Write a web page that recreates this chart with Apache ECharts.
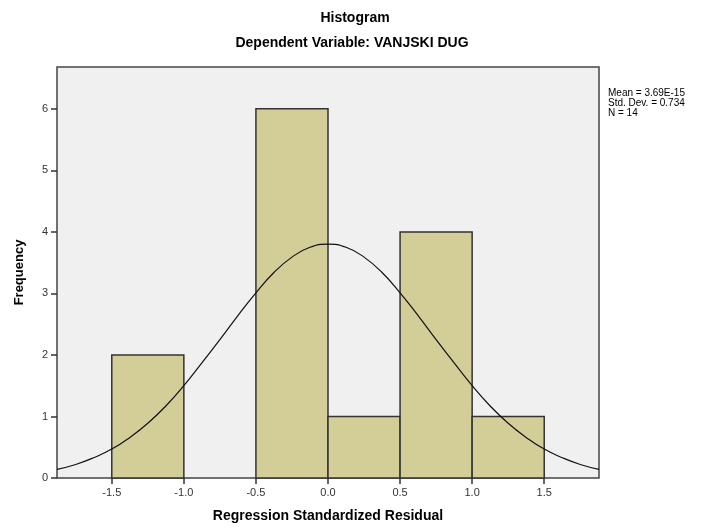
<!DOCTYPE html>
<html>
<head>
<meta charset="utf-8">
<script src="https://cdn.jsdelivr.net/npm/echarts@6/dist/echarts.min.js"></script>
<style>
  html, body { margin: 0; padding: 0; background: #fff; }
  #chart { width: 716px; height: 528px; }
</style>
</head>
<body>
<div id="chart"></div>
<script>
'use strict'

// histogram bins (lower edge, upper edge) and counts
const binStart = [-1.5, -1.0, -0.5, 0.0, 0.5, 1.0]
const binEnd = [-1.0, -0.5, 0.0, 0.5, 1.0, 1.5]
const counts = [2, 0, 6, 1, 4, 1]

// normal curve
const curveX = [-1.88, -1.75, -1.625, -1.5, -1.375, -1.25, -1.125, -1.0, -0.875, -0.75, -0.625, -0.5, -0.375, -0.25, -0.125, 0,
  0.125, 0.25, 0.375, 0.5, 0.625, 0.75, 0.875, 1.0, 1.125, 1.25, 1.375, 1.5, 1.625, 1.75, 1.88]
const curveY = [0.14, 0.22, 0.33, 0.47, 0.66, 0.89, 1.17, 1.50, 1.87, 2.25, 2.64, 3.01, 3.34, 3.59, 3.75, 3.80,
  3.75, 3.59, 3.34, 3.01, 2.64, 2.25, 1.87, 1.50, 1.17, 0.89, 0.66, 0.47, 0.33, 0.22, 0.14]

const statLines = ['Mean = 3.69E-15', 'Std. Dev. = 0.734', 'N = 14']

// axis extents
const X_MIN = -1.88
const X_MAX = 1.88
const Y_MAX = 6.68
const TICK_X_MIN = -1.5
const TICK_X_MAX = 1.5
const TICK_Y_MAX = 6

const FONT = '"Liberation Sans", Arial, sans-serif'
const W = 716
const H = 528
const G = { left: 57, right: 117, top: 67, bottom: 50 }
const plotW = W - G.left - G.right
const plotH = H - G.top - G.bottom
const pxX = plotW / (X_MAX - X_MIN)
const pxY = plotH / Y_MAX

// extra grids only carry the ticks, so they start at round values
const xTickGrid = {
  left: G.left + (TICK_X_MIN - X_MIN) * pxX,
  right: G.right + (X_MAX - TICK_X_MAX) * pxX,
  top: G.top,
  bottom: G.bottom
}
const yTickGrid = {
  left: G.left,
  right: G.right,
  top: G.top + (Y_MAX - TICK_Y_MAX) * pxY,
  bottom: G.bottom
}

const chart = echarts.init(document.getElementById('chart'))
const barData = counts.map((c, i) => [binStart[i], binEnd[i], c])
const tickStyle = { color: '#333', width: 1.5 }
const labelStyle = { fontSize: 11, color: '#333', fontFamily: FONT }
const hiddenAxis = (gridIndex) => ({
  type: 'value',
  gridIndex,
  show: false,
  axisLine: { show: false, onZero: false }
})

const option = {
  animation: false,
  textStyle: { fontFamily: FONT },
  title: [
    {
      text: 'Histogram',
      left: 350,
      top: 6,
      textAlign: 'center',
      textStyle: { fontFamily: FONT, fontSize: 14, fontWeight: 'bold', color: '#000' }
    },
    {
      text: 'Dependent Variable: VANJSKI DUG',
      left: 347,
      top: 31,
      textAlign: 'center',
      textStyle: { fontFamily: FONT, fontSize: 14, fontWeight: 'bold', color: '#000' }
    }
  ],
  graphic: [
    {
      type: 'text',
      left: 608,
      top: 88,
      style: {
        text: statLines.join('\n'),
        font: '10px ' + FONT,
        lineHeight: 10,
        fill: '#000'
      }
    }
  ],
  grid: [
    {
      left: G.left,
      right: G.right,
      top: G.top,
      bottom: G.bottom,
      show: true,
      backgroundColor: '#f0f0f0',
      borderColor: '#444',
      borderWidth: 1.5
    },
    xTickGrid,
    yTickGrid
  ],
  xAxis: [
    {
      type: 'value',
      gridIndex: 0,
      min: X_MIN,
      max: X_MAX,
      name: 'Regression Standardized Residual',
      nameLocation: 'middle',
      nameGap: 31,
      nameTextStyle: { fontFamily: FONT, fontSize: 14, fontWeight: 'bold', color: '#000' },
      axisLine: { show: false, onZero: false },
      axisTick: { show: false },
      axisLabel: { show: false },
      splitLine: { show: false }
    },
    {
      type: 'value',
      gridIndex: 1,
      min: TICK_X_MIN,
      max: TICK_X_MAX,
      interval: 0.5,
      axisLine: { show: false, onZero: false },
      splitLine: { show: false },
      axisTick: { show: true, length: 6, lineStyle: tickStyle },
      axisLabel: Object.assign({ formatter: v => v.toFixed(1), margin: 9 }, labelStyle)
    },
    hiddenAxis(2)
  ],
  yAxis: [
    {
      type: 'value',
      gridIndex: 0,
      min: 0,
      max: Y_MAX,
      name: 'Frequency',
      nameLocation: 'middle',
      nameGap: 31,
      nameTextStyle: { fontFamily: FONT, fontSize: 13, fontWeight: 'bold', color: '#000' },
      axisLine: { show: false, onZero: false },
      axisTick: { show: false },
      axisLabel: { show: false },
      splitLine: { show: false }
    },
    hiddenAxis(1),
    {
      type: 'value',
      gridIndex: 2,
      min: 0,
      max: TICK_Y_MAX,
      interval: 1,
      axisLine: { show: false, onZero: false },
      splitLine: { show: false },
      axisTick: { show: true, length: 6, lineStyle: tickStyle },
      axisLabel: Object.assign({ margin: 9 }, labelStyle)
    }
  ],
  series: [
    {
      type: 'custom',
      xAxisIndex: 0,
      yAxisIndex: 0,
      data: barData,
      z: 2,
      renderItem: (params, api) => {
        const c = api.value(2)
        if (!c) return null
        const p0 = api.coord([api.value(0), c])
        const p1 = api.coord([api.value(1), 0])
        return {
          type: 'rect',
          shape: { x: p0[0], y: p0[1], width: p1[0] - p0[0], height: p1[1] - p0[1] },
          style: { fill: '#d3ce98', stroke: '#333', lineWidth: 1.5 }
        }
      }
    },
    {
      type: 'line',
      xAxisIndex: 0,
      yAxisIndex: 0,
      data: curveX.map((x, i) => [x, curveY[i]]),
      smooth: true,
      showSymbol: false,
      z: 3,
      lineStyle: { color: '#111', width: 1.2 }
    }
  ]
}

chart.setOption(option)
</script>
</body>
</html>
